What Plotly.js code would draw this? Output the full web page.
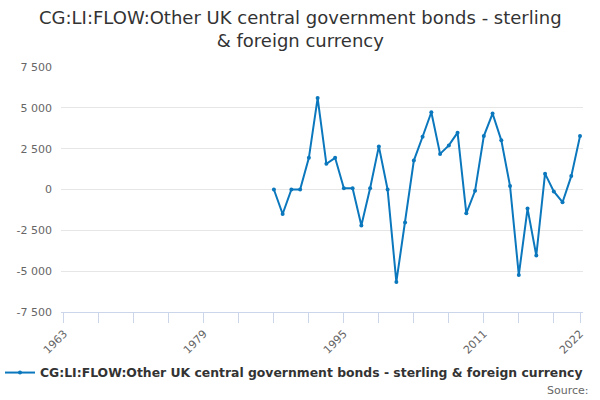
<!DOCTYPE html>
<html>
<head>
<meta charset="utf-8">
<script src="https://cdn.plot.ly/plotly-3.0.1.min.js"></script>
<style>
  html, body { margin: 0; padding: 0; background: #fff; }
  #plot { width: 600px; height: 400px; }
</style>
</head>
<body>
<div id="plot"></div>
<script>
const SERIES_NAME = 'CG:LI:FLOW:Other UK central government bonds - sterling & foreign currency';
const CHART_TITLE = 'CG:LI:FLOW:Other UK central government bonds - sterling<br>& foreign currency';
const YEARS = [
  1987, 1988, 1989, 1990, 1991, 1992, 1993, 1994, 1995, 1996,
  1997, 1998, 1999, 2000, 2001, 2002, 2003, 2004, 2005, 2006,
  2007, 2008, 2009, 2010, 2011, 2012, 2013, 2014, 2015, 2016,
  2017, 2018, 2019, 2020, 2021, 2022
];
const VALUES = [
  0, -1500, 0, 0, 1940, 5600, 1570, 1940, 80, 80,
  -2200, 80, 2640, 0, -5660, -2020, 1770, 3230, 4730, 2180,
  2700, 3480, -1460, -80, 3270, 4650, 3010, 210, -5230, -1170,
  -4040, 970, -120, -780, 820, 3270
];
const X_TICKS = [1963, 1967, 1971, 1975, 1979, 1983, 1987, 1991, 1995, 1999, 2003, 2007, 2011, 2015, 2019, 2022];
const X_LABELS = ['1963', '', '', '', '1979', '', '', '', '1995', '', '', '', '2011', '', '', '2022'];
const Y_TICKS = [-7500, -5000, -2500, 0, 2500, 5000, 7500];

const FONT = 'DejaVu Sans, Verdana, sans-serif';
const LINE_COLOR = '#0b77bd';

function fmt(v) {
  // thousands separated by a space, like the original chart
  let s = Math.abs(v).toString().replace(/\B(?=(\d{3})+(?!\d))/g, ' ');
  return (v < 0 ? '-' : '') + s;
}

const trace = {
  name: SERIES_NAME,
  x: YEARS,
  y: VALUES,
  type: 'scatter',
  mode: 'lines+markers',
  line: {color: LINE_COLOR, width: 2},
  marker: {color: LINE_COLOR, size: 4},
  hoverinfo: 'skip'
};

const layout = {
  width: 600,
  height: 400,
  margin: {t: 67, b: 88, l: 61, r: 17},
  paper_bgcolor: '#fff',
  plot_bgcolor: '#fff',
  font: {family: FONT, color: '#666', size: 11},
  xaxis: {
    range: [1962.66, 2022.34],
    tickvals: X_TICKS,
    ticktext: X_LABELS,
    tickangle: -45,
    ticks: 'outside',
    ticklen: 10,
    tickcolor: '#ccd6eb',
    showgrid: false,
    zeroline: false,
    showline: true,
    linecolor: '#ccd6eb',
    linewidth: 1,
    automargin: false,
    tickfont: {family: FONT, size: 11, color: '#666'},
    fixedrange: true
  },
  yaxis: {
    range: [-7500, 7500],
    tickvals: Y_TICKS,
    ticktext: Y_TICKS.map(fmt),
    showgrid: true,
    gridcolor: '#e6e6e6',
    zeroline: false,
    showline: false,
    ticks: '',
    ticklabelstandoff: 8,
    automargin: false,
    tickfont: {family: FONT, size: 11, color: '#666'},
    fixedrange: true
  },
  showlegend: true,
  legend: {
    orientation: 'h',
    xref: 'container', yref: 'container',
    x: 0.49, xanchor: 'center',
    y: 0.0675, yanchor: 'middle',
    font: {family: FONT, size: 12.4, color: '#333', weight: 'bold'},
    itemclick: false,
    itemdoubleclick: false
  },
  annotations: [{
    text: CHART_TITLE,
    xref: 'paper', yref: 'paper',
    x: 0.458, xanchor: 'center',
    y: 1.155, yanchor: 'middle',
    showarrow: false,
    font: {family: FONT, size: 18, color: '#333'}
  }, {
    text: 'Source:',
    xref: 'paper', yref: 'paper',
    x: 1.015, xanchor: 'right',
    y: -0.32, yanchor: 'middle',
    showarrow: false,
    font: {family: FONT, size: 11, color: '#666'}
  }]
};

Plotly.newPlot('plot', [trace], layout, {displayModeBar: false, staticPlot: true});
</script>
</body>
</html>
